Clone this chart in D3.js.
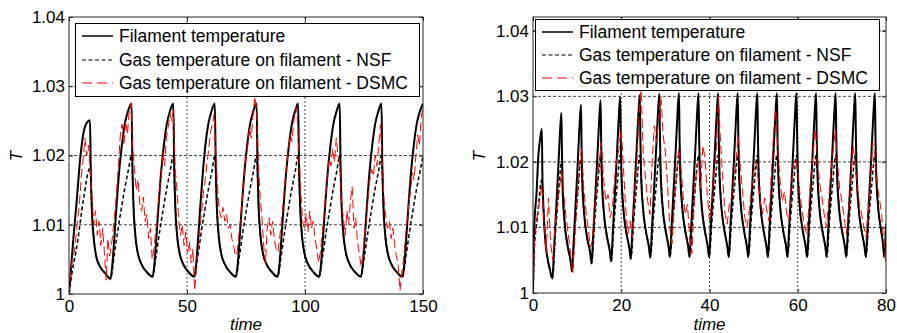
<!DOCTYPE html>
<html>
<head>
<meta charset="utf-8">
<script src="https://cdn.jsdelivr.net/npm/d3@7"></script>
<style>
  body { margin: 0; background: #fff; }
  text { font-family: Arial, "Liberation Sans", sans-serif; }
</style>
</head>
<body>
<svg id="chart"></svg>
<script>
// ---- data ----
const legendLabels = ["Filament temperature", "Gas temperature on filament - NSF", "Gas temperature on filament - DSMC"];
const yTicks = [1, 1.01, 1.02, 1.03, 1.04];
const yTickLabels = ["1", "1.01", "1.02", "1.03", "1.04"];
const leftXTicks = [0, 50, 100, 150];
const rightXTicks = [0, 20, 40, 60, 80];

// left panel, time 0..150
const leftFilament = [
  [0,1.0000],[1.8,1.0078],[3.3,1.0136],[4.7,1.0194],[6.1,1.0232],[7.5,1.0247],[8.9,1.0251],[9.2,1.0184],[9.7,1.0121],[10.5,1.0080],[11.5,1.0055],[13.1,1.0040],[15.3,1.0030],[17.6,1.0022],
  [18.3,1.0040],[19.1,1.0075],[20.1,1.0125],[21.2,1.0175],[22.4,1.0215],[23.6,1.0245],[24.9,1.0263],[26.5,1.0275],[26.85,1.0190],[27.3,1.0130],[28.1,1.0085],[29.1,1.0060],[30.7,1.0043],[32.9,1.0032],[35.4,1.0025],
  [36.1,1.0040],[36.9,1.0075],[37.9,1.0125],[39.0,1.0175],[40.2,1.0215],[41.4,1.0245],[42.7,1.0263],[44.2,1.0275],[44.55,1.0190],[45.0,1.0130],[45.8,1.0085],[46.8,1.0060],[48.4,1.0043],[50.6,1.0032],[53.1,1.0025],
  [53.8,1.0040],[54.6,1.0075],[55.6,1.0125],[56.7,1.0175],[57.8,1.0215],[59.0,1.0245],[60.3,1.0263],[61.8,1.0275],[62.15,1.0190],[62.6,1.0130],[63.4,1.0085],[64.4,1.0060],[66.0,1.0043],[68.2,1.0032],[70.7,1.0025],
  [71.4,1.0040],[72.2,1.0075],[73.2,1.0125],[74.3,1.0175],[75.5,1.0215],[76.7,1.0245],[78.0,1.0263],[79.5,1.0275],[79.85,1.0190],[80.3,1.0130],[81.1,1.0085],[82.1,1.0060],[83.7,1.0043],[85.9,1.0032],[88.4,1.0025],
  [89.1,1.0040],[89.9,1.0075],[90.9,1.0125],[92.0,1.0175],[93.2,1.0215],[94.4,1.0245],[95.7,1.0263],[97.1,1.0275],[97.45,1.0190],[97.9,1.0130],[98.7,1.0085],[99.7,1.0060],[101.3,1.0043],[103.5,1.0032],[106.0,1.0025],
  [106.7,1.0040],[107.5,1.0075],[108.5,1.0125],[109.6,1.0175],[110.8,1.0215],[112.0,1.0245],[113.3,1.0263],[114.7,1.0275],[115.05,1.0190],[115.5,1.0130],[116.3,1.0085],[117.3,1.0060],[118.9,1.0043],[121.1,1.0032],[123.7,1.0025],
  [124.4,1.0040],[125.2,1.0075],[126.2,1.0125],[127.3,1.0175],[128.5,1.0215],[129.7,1.0245],[131.0,1.0263],[132.4,1.0275],[132.75,1.0190],[133.2,1.0130],[134.0,1.0085],[135.0,1.0060],[136.6,1.0043],[138.8,1.0032],[141.3,1.0025],
  [142.0,1.0040],[142.8,1.0075],[143.8,1.0125],[144.9,1.0175],[146.1,1.0215],[147.3,1.0245],[148.6,1.0263],[150.0,1.0275]
];
const leftNSF = [
  [0,1.0000],[1.5,1.0035],[3.3,1.0068],[6.1,1.0136],[8.9,1.0182],[9.7,1.0121],[10.5,1.0080],[11.5,1.0055],[13.1,1.0040],[15.3,1.0030],[17.6,1.0022],
  [19.1,1.0055],[20.6,1.0090],[22.1,1.0122],[23.6,1.0152],[25.1,1.0178],[26.5,1.0200],[27.3,1.0130],[28.1,1.0085],[29.1,1.0060],[30.7,1.0043],[32.9,1.0032],[35.4,1.0025],
  [36.9,1.0055],[38.4,1.0090],[39.9,1.0122],[41.4,1.0152],[42.9,1.0178],[44.2,1.0200],[45.0,1.0130],[45.8,1.0085],[46.8,1.0060],[48.4,1.0043],[50.6,1.0032],[53.1,1.0025],
  [54.6,1.0055],[56.1,1.0090],[57.6,1.0122],[59.1,1.0152],[60.6,1.0178],[61.8,1.0200],[62.6,1.0130],[63.4,1.0085],[64.4,1.0060],[66.0,1.0043],[68.2,1.0032],[70.7,1.0025],
  [72.2,1.0055],[73.7,1.0090],[75.2,1.0122],[76.7,1.0152],[78.2,1.0178],[79.5,1.0200],[80.3,1.0130],[81.1,1.0085],[82.1,1.0060],[83.7,1.0043],[85.9,1.0032],[88.4,1.0025],
  [89.9,1.0055],[91.4,1.0090],[92.9,1.0122],[94.4,1.0152],[95.9,1.0178],[97.1,1.0200],[97.9,1.0130],[98.7,1.0085],[99.7,1.0060],[101.3,1.0043],[103.5,1.0032],[106.0,1.0025],
  [107.5,1.0055],[109.0,1.0090],[110.5,1.0122],[112.0,1.0152],[113.5,1.0178],[114.7,1.0200],[115.5,1.0130],[116.3,1.0085],[117.3,1.0060],[118.9,1.0043],[121.1,1.0032],[123.7,1.0025],
  [125.2,1.0055],[126.7,1.0090],[128.2,1.0122],[129.7,1.0152],[131.2,1.0178],[132.4,1.0200],[133.2,1.0130],[134.0,1.0085],[135.0,1.0060],[136.6,1.0043],[138.8,1.0032],[141.3,1.0025],
  [142.8,1.0055],[144.3,1.0090],[145.8,1.0122],[147.3,1.0152],[148.8,1.0178],[150.0,1.0200]
];
const leftDSMC = [
  [0,1.0000],[0.75,1.0030],[1.5,1.0055],[2.25,1.0060],[3.0,1.0085],[3.75,1.0110],[4.5,1.0135],[5.25,1.0170],[6.0,1.0195],[6.75,1.0225],[7.5,1.0200],[8.25,1.0215],[9.0,1.0180],[9.75,1.0140],[10.5,1.0100],[11.25,1.0120],[12.0,1.0085],[12.75,1.0105],[13.5,1.0070],[14.25,1.0095],[15.0,1.0060],[15.75,1.0020],[16.5,1.0080],[17.25,1.0055],
  [18.0,1.0070],[18.75,1.0095],[19.5,1.0120],[20.25,1.0150],[21.0,1.0190],[21.75,1.0230],[22.5,1.0245],[23.25,1.0215],[24.0,1.0250],[24.75,1.0230],[25.5,1.0265],[26.25,1.0275],[27.0,1.0210],[27.75,1.0180],[28.5,1.0150],[29.25,1.0165],[30.0,1.0130],[30.75,1.0120],[31.5,1.0140],[32.25,1.0105],[33.0,1.0115],[33.75,1.0080],[34.5,1.0095],[35.25,1.0050],
  [36.0,1.0065],[36.75,1.0090],[37.5,1.0120],[38.25,1.0145],[39.0,1.0170],[39.75,1.0205],[40.5,1.0185],[41.25,1.0225],[42.0,1.0240],[42.75,1.0260],[43.5,1.0250],[44.25,1.0265],[45.0,1.0180],[45.75,1.0150],[46.5,1.0105],[47.25,1.0085],[48.0,1.0100],[48.75,1.0070],[49.5,1.0090],[50.25,1.0060],[51.0,1.0075],[51.75,1.0045],[52.5,1.0065],[53.25,1.0005],
  [54.0,1.0040],[54.75,1.0060],[55.5,1.0095],[56.25,1.0120],[57.0,1.0150],[57.75,1.0165],[58.5,1.0190],[59.25,1.0210],[60.0,1.0235],[60.75,1.0245],[61.5,1.0260],[62.25,1.0200],[63.0,1.0150],[63.75,1.0120],[64.5,1.0110],[65.25,1.0125],[66.0,1.0105],[66.75,1.0115],[67.5,1.0095],[68.25,1.0100],[69.0,1.0080],[69.75,1.0070],[70.5,1.0055],
  [71.25,1.0060],[72.0,1.0085],[72.75,1.0110],[73.5,1.0140],[74.25,1.0165],[75.0,1.0200],[75.75,1.0215],[76.5,1.0240],[77.25,1.0225],[78.0,1.0260],[78.75,1.0285],[79.5,1.0265],[80.25,1.0190],[81.0,1.0140],[81.75,1.0110],[82.5,1.0070],[83.25,1.0045],[84.0,1.0095],[84.75,1.0110],[85.5,1.0085],[86.25,1.0105],[87.0,1.0080],[87.75,1.0065],
  [88.5,1.0060],[89.25,1.0080],[90.0,1.0105],[90.75,1.0130],[91.5,1.0160],[92.25,1.0185],[93.0,1.0210],[93.75,1.0230],[94.5,1.0220],[95.25,1.0250],[96.0,1.0270],[96.75,1.0255],[97.5,1.0200],[98.25,1.0145],[99.0,1.0105],[99.75,1.0095],[100.5,1.0115],[101.25,1.0090],[102.0,1.0120],[102.75,1.0095],[103.5,1.0105],[104.25,1.0080],[105.0,1.0065],[105.75,1.0045],
  [106.5,1.0060],[107.25,1.0085],[108.0,1.0110],[108.75,1.0140],[109.5,1.0170],[110.25,1.0195],[111.0,1.0185],[111.75,1.0210],[112.5,1.0190],[113.25,1.0225],[114.0,1.0200],[114.75,1.0190],[115.5,1.0130],[116.25,1.0110],[117.0,1.0085],[117.75,1.0120],[118.5,1.0100],[119.25,1.0135],[120.0,1.0155],[120.75,1.0095],[121.5,1.0110],[122.25,1.0075],[123.0,1.0060],[123.75,1.0040],
  [124.5,1.0055],[125.25,1.0080],[126.0,1.0105],[126.75,1.0140],[127.5,1.0165],[128.25,1.0180],[129.0,1.0170],[129.75,1.0200],[130.5,1.0185],[131.25,1.0215],[132.0,1.0245],[132.75,1.0190],[133.5,1.0135],[134.25,1.0110],[135.0,1.0095],[135.75,1.0105],[136.5,1.0080],[137.25,1.0095],[138.0,1.0070],[138.75,1.0055],[139.5,1.0040],[140.25,1.0005],[141.0,1.0030],
  [141.75,1.0050],[142.5,1.0080],[143.25,1.0105],[144.0,1.0130],[144.75,1.0150],[145.5,1.0175],[146.25,1.0165],[147.0,1.0200],[147.75,1.0230],[148.5,1.0215],[149.25,1.0255],[150.0,1.0270]
];

// right panel, time 0..80
const rightFilament = [
  [0,1.0000],[0.23,1.0091],[0.84,1.0157],[1.2,1.0208],[1.59,1.0234],[2.0,1.0250],[2.12,1.0183],[2.35,1.0132],[2.72,1.0086],[3.25,1.0055],[3.85,1.0035],[4.4,1.0022],
  [4.76,1.0066],[5.15,1.0116],[5.67,1.0183],[6.12,1.0245],[6.44,1.0275],[6.58,1.0207],[6.74,1.0156],[7.19,1.0106],[7.79,1.0074],[8.54,1.0048],[8.84,1.0033],
  [9.2,1.0077],[9.59,1.0127],[10.11,1.0194],[10.56,1.0257],[10.88,1.0287],[11.02,1.0219],[11.18,1.0168],[11.63,1.0118],[12.23,1.0086],[12.98,1.0060],[13.28,1.0045],
  [13.64,1.0089],[14.03,1.0137],[14.55,1.0203],[15.0,1.0264],[15.32,1.0294],[15.46,1.0225],[15.62,1.0173],[16.07,1.0122],[16.67,1.0090],[17.42,1.0063],[17.72,1.0048],
  [18.08,1.0092],[18.47,1.0141],[18.99,1.0207],[19.44,1.0269],[19.76,1.0299],[19.9,1.0230],[20.06,1.0178],[20.51,1.0126],[21.11,1.0094],[21.86,1.0067],[22.16,1.0052],
  [22.52,1.0096],[22.91,1.0145],[23.43,1.0211],[23.88,1.0272],[24.2,1.0302],[24.34,1.0233],[24.5,1.0180],[24.95,1.0128],[25.55,1.0096],[26.3,1.0069],[26.6,1.0054],
  [26.96,1.0099],[27.35,1.0148],[27.87,1.0214],[28.32,1.0275],[28.64,1.0304],[28.78,1.0235],[28.94,1.0183],[29.39,1.0130],[29.99,1.0098],[30.74,1.0070],[31.04,1.0055],
  [31.4,1.0099],[31.79,1.0148],[32.31,1.0214],[32.76,1.0275],[33.08,1.0305],[33.22,1.0235],[33.38,1.0183],[33.83,1.0130],[34.43,1.0098],[35.18,1.0070],[35.48,1.0055],
  [35.84,1.0099],[36.23,1.0148],[36.75,1.0214],[37.2,1.0275],[37.52,1.0305],[37.66,1.0235],[37.82,1.0183],[38.27,1.0130],[38.87,1.0098],[39.62,1.0070],[39.92,1.0055],
  [40.28,1.0099],[40.67,1.0148],[41.19,1.0214],[41.64,1.0275],[41.96,1.0305],[42.1,1.0235],[42.26,1.0183],[42.71,1.0130],[43.31,1.0098],[44.06,1.0070],[44.36,1.0055],
  [44.72,1.0099],[45.11,1.0148],[45.63,1.0214],[46.08,1.0275],[46.4,1.0305],[46.54,1.0235],[46.7,1.0183],[47.15,1.0130],[47.75,1.0098],[48.5,1.0070],[48.8,1.0055],
  [49.16,1.0099],[49.55,1.0148],[50.07,1.0214],[50.52,1.0275],[50.84,1.0305],[50.98,1.0235],[51.14,1.0183],[51.59,1.0130],[52.19,1.0098],[52.94,1.0070],[53.24,1.0055],
  [53.6,1.0099],[53.99,1.0148],[54.51,1.0214],[54.96,1.0275],[55.28,1.0305],[55.42,1.0235],[55.58,1.0183],[56.03,1.0130],[56.63,1.0098],[57.38,1.0070],[57.68,1.0055],
  [58.04,1.0099],[58.43,1.0148],[58.95,1.0214],[59.4,1.0275],[59.72,1.0305],[59.86,1.0235],[60.02,1.0183],[60.47,1.0130],[61.07,1.0098],[61.82,1.0070],[62.12,1.0055],
  [62.48,1.0099],[62.87,1.0148],[63.39,1.0214],[63.84,1.0275],[64.16,1.0305],[64.3,1.0235],[64.46,1.0183],[64.91,1.0130],[65.51,1.0098],[66.26,1.0070],[66.56,1.0055],
  [66.92,1.0099],[67.31,1.0148],[67.83,1.0214],[68.28,1.0275],[68.6,1.0305],[68.74,1.0235],[68.9,1.0183],[69.35,1.0130],[69.95,1.0098],[70.7,1.0070],[71.0,1.0055],
  [71.36,1.0099],[71.75,1.0148],[72.27,1.0214],[72.72,1.0275],[73.04,1.0305],[73.18,1.0235],[73.34,1.0183],[73.79,1.0130],[74.39,1.0098],[75.14,1.0070],[75.44,1.0055],
  [75.8,1.0099],[76.19,1.0148],[76.71,1.0214],[77.16,1.0275],[77.48,1.0305],[77.62,1.0235],[77.78,1.0183],[78.23,1.0130],[78.83,1.0098],[79.4,1.0070],[79.6,1.0055],[80.0,1.0105]
];
const rightNSF = [
  [0,1.0000],[0.3,1.0065],[1.0,1.0115],[2.0,1.0173],[2.35,1.0132],[2.72,1.0086],[3.25,1.0055],[3.85,1.0035],[4.4,1.0022],
  [5.08,1.0090],[5.76,1.0150],[6.44,1.0198],[6.74,1.0156],[7.19,1.0106],[7.79,1.0074],[8.54,1.0048],[8.84,1.0033],
  [9.52,1.0100],[10.2,1.0158],[10.88,1.0205],[11.18,1.0168],[11.63,1.0118],[12.23,1.0086],[12.98,1.0060],[13.28,1.0045],
  [13.96,1.0108],[14.64,1.0163],[15.32,1.0208],[15.62,1.0173],[16.07,1.0122],[16.67,1.0090],[17.42,1.0063],[17.72,1.0048],
  [18.4,1.0110],[19.08,1.0165],[19.76,1.0210],[20.06,1.0178],[20.51,1.0126],[21.11,1.0094],[21.86,1.0067],[22.16,1.0052],
  [22.84,1.0112],[23.52,1.0166],[24.2,1.0210],[24.5,1.0180],[24.95,1.0128],[25.55,1.0096],[26.3,1.0069],[26.6,1.0054],
  [27.28,1.0114],[27.96,1.0167],[28.64,1.0210],[28.94,1.0183],[29.39,1.0130],[29.99,1.0098],[30.74,1.0070],[31.04,1.0055],
  [31.72,1.0114],[32.4,1.0167],[33.08,1.0210],[33.38,1.0183],[33.83,1.0130],[34.43,1.0098],[35.18,1.0070],[35.48,1.0055],
  [36.16,1.0114],[36.84,1.0167],[37.52,1.0210],[37.82,1.0183],[38.27,1.0130],[38.87,1.0098],[39.62,1.0070],[39.92,1.0055],
  [40.6,1.0114],[41.28,1.0167],[41.96,1.0210],[42.26,1.0183],[42.71,1.0130],[43.31,1.0098],[44.06,1.0070],[44.36,1.0055],
  [45.04,1.0114],[45.72,1.0167],[46.4,1.0210],[46.7,1.0183],[47.15,1.0130],[47.75,1.0098],[48.5,1.0070],[48.8,1.0055],
  [49.48,1.0114],[50.16,1.0167],[50.84,1.0210],[51.14,1.0183],[51.59,1.0130],[52.19,1.0098],[52.94,1.0070],[53.24,1.0055],
  [53.92,1.0114],[54.6,1.0167],[55.28,1.0210],[55.58,1.0183],[56.03,1.0130],[56.63,1.0098],[57.38,1.0070],[57.68,1.0055],
  [58.36,1.0114],[59.04,1.0167],[59.72,1.0210],[60.02,1.0183],[60.47,1.0130],[61.07,1.0098],[61.82,1.0070],[62.12,1.0055],
  [62.8,1.0114],[63.48,1.0167],[64.16,1.0210],[64.46,1.0183],[64.91,1.0130],[65.51,1.0098],[66.26,1.0070],[66.56,1.0055],
  [67.24,1.0114],[67.92,1.0167],[68.6,1.0210],[68.9,1.0183],[69.35,1.0130],[69.95,1.0098],[70.7,1.0070],[71.0,1.0055],
  [71.68,1.0114],[72.36,1.0167],[73.04,1.0210],[73.34,1.0183],[73.79,1.0130],[74.39,1.0098],[75.14,1.0070],[75.44,1.0055],
  [76.12,1.0114],[76.8,1.0167],[77.48,1.0210],[77.78,1.0183],[78.23,1.0130],[78.83,1.0098],[79.4,1.0070],[79.6,1.0055],[80.0,1.0080]
];
const rightDSMC = [
  [0,1.0030],[0.5,1.0095],[1.0,1.0120],[1.5,1.0140],[2.0,1.0165],[2.5,1.0110],[3.0,1.0060],[3.5,1.0145],[4.0,1.0075],[4.5,1.0050],
  [5.0,1.0100],[5.5,1.0135],[6.0,1.0160],[6.5,1.0185],[7.0,1.0150],[7.5,1.0115],[8.0,1.0090],[8.5,1.0060],[9.0,1.0030],[9.5,1.0085],
  [10.0,1.0140],[10.5,1.0190],[11.0,1.0220],[11.5,1.0160],[12.0,1.0125],[12.5,1.0100],[13.0,1.0070],[13.5,1.0080],[14.0,1.0125],[14.5,1.0165],
  [15.0,1.0200],[15.5,1.0230],[16.0,1.0175],[16.5,1.0140],[17.0,1.0150],[17.5,1.0115],[18.0,1.0130],[18.5,1.0175],[19.0,1.0205],[19.5,1.0220],
  [20.0,1.0250],[20.5,1.0190],[21.0,1.0130],[21.5,1.0090],[22.0,1.0110],[22.5,1.0085],[23.0,1.0150],[23.5,1.0195],[24.0,1.0270],[24.5,1.0310],
  [25.0,1.0210],[25.5,1.0175],[26.0,1.0140],[26.5,1.0120],[27.0,1.0200],[27.5,1.0255],[28.0,1.0230],[28.5,1.0270],[29.0,1.0300],[29.5,1.0240],
  [30.0,1.0215],[30.5,1.0165],[31.0,1.0100],[31.5,1.0075],[32.0,1.0130],[32.5,1.0180],[33.0,1.0220],[33.5,1.0195],[34.0,1.0150],[34.5,1.0120],
  [35.0,1.0135],[35.5,1.0085],[36.0,1.0060],[36.5,1.0130],[37.0,1.0185],[37.5,1.0200],[38.0,1.0160],[38.5,1.0225],[39.0,1.0205],[39.5,1.0150],
  [40.0,1.0110],[40.5,1.0140],[41.0,1.0185],[41.5,1.0210],[42.0,1.0300],[42.5,1.0230],[43.0,1.0175],[43.5,1.0120],[44.0,1.0105],[44.5,1.0135],
  [45.0,1.0145],[45.5,1.0170],[46.0,1.0200],[46.5,1.0240],[47.0,1.0190],[47.5,1.0155],[48.0,1.0115],[48.5,1.0100],[49.0,1.0125],[49.5,1.0160],
  [50.0,1.0185],[50.5,1.0200],[51.0,1.0175],[51.5,1.0140],[52.0,1.0120],[52.5,1.0145],[53.0,1.0125],[53.5,1.0110],[54.0,1.0180],[54.5,1.0240],
  [55.0,1.0280],[55.5,1.0215],[56.0,1.0170],[56.5,1.0140],[57.0,1.0155],[57.5,1.0120],[58.0,1.0110],[58.5,1.0160],[59.0,1.0195],[59.5,1.0205],
  [60.0,1.0185],[60.5,1.0150],[61.0,1.0125],[61.5,1.0105],[62.0,1.0090],[62.5,1.0130],[63.0,1.0180],[63.5,1.0215],[64.0,1.0250],[64.5,1.0205],
  [65.0,1.0165],[65.5,1.0145],[66.0,1.0120],[66.5,1.0100],[67.0,1.0140],[67.5,1.0185],[68.0,1.0215],[68.5,1.0250],[69.0,1.0200],[69.5,1.0160],
  [70.0,1.0140],[70.5,1.0115],[71.0,1.0090],[71.5,1.0125],[72.0,1.0170],[72.5,1.0225],[73.0,1.0200],[73.5,1.0160],[74.0,1.0135],[74.5,1.0120],
  [75.0,1.0100],[75.5,1.0085],[76.0,1.0125],[76.5,1.0170],[77.0,1.0230],[77.5,1.0210],[78.0,1.0165],[78.5,1.0145],[79.0,1.0120],[79.5,1.0080],[80.0,1.0040]
];

// ---- layout ----
const width = 897, height = 333;
const fontSize = 17;
const legendFontSize = 17.5;

const panels = [
  { id: "l", x0: 69, x1: 423, y0: 17, y1: 294, xMax: 150, yMax: 1.04, xTicks: leftXTicks,
    filament: leftFilament, nsf: leftNSF, dsmc: leftDSMC,
    legend: { x: 75, y: 23, w: 344, h: 73, rowY: [36, 60, 83] }, yLabelX: 22 },
  { id: "r", x0: 533, x1: 886, y0: 17, y1: 293, xMax: 80, yMax: 1.0421, xTicks: rightXTicks,
    filament: rightFilament, nsf: rightNSF, dsmc: rightDSMC,
    legend: { x: 535, y: 19, w: 344, h: 71, rowY: [32, 55, 78] }, yLabelX: 485 }
];

const seriesStyle = [
  { stroke: "#000", width: 2, dash: null },
  { stroke: "#000", width: 1.5, dash: "4,2.5" },
  { stroke: "#ff0000", width: 1, dash: "9,4" }
];

const svg = d3.select("#chart")
  .attr("width", width)
  .attr("height", height)
  .style("background", "#fff");

panels.forEach(p => {
  const x = d3.scaleLinear().domain([0, p.xMax]).range([p.x0, p.x1]);
  const y = d3.scaleLinear().domain([1, p.yMax]).range([p.y1, p.y0]);
  const g = svg.append("g");

  g.append("clipPath").attr("id", "clip-" + p.id)
    .append("rect").attr("x", p.x0).attr("y", p.y0)
    .attr("width", p.x1 - p.x0).attr("height", p.y1 - p.y0);

  // grid
  const grid = g.append("g").attr("stroke", "#444").attr("stroke-width", 1);
  grid.selectAll(".gx").data(p.xTicks.filter(t => t > 0 && t < p.xMax)).enter()
    .append("line").attr("stroke-dasharray", "2,2")
    .attr("x1", d => x(d)).attr("x2", d => x(d)).attr("y1", p.y0).attr("y2", p.y1);
  grid.selectAll(".gy").data(yTicks.filter(t => t > 1 && t < p.yMax)).enter()
    .append("line").attr("stroke-dasharray", "3,2")
    .attr("y1", d => y(d)).attr("y2", d => y(d)).attr("x1", p.x0).attr("x2", p.x1);

  // data lines
  const plot = g.append("g").attr("clip-path", `url(#clip-${p.id})`);
  const smooth = d3.line().x(d => x(d[0])).y(d => y(d[1])).curve(d3.curveMonotoneX);
  const straight = d3.line().x(d => x(d[0])).y(d => y(d[1]));
  [p.filament, p.nsf, p.dsmc].forEach((data, i) => {
    const s = seriesStyle[i];
    plot.append("path").datum(data)
      .attr("d", i === 2 ? straight : smooth)
      .attr("fill", "none")
      .attr("stroke", s.stroke)
      .attr("stroke-width", s.width)
      .attr("stroke-dasharray", s.dash)
      .attr("stroke-linejoin", "round");
  });

  // axes with inward ticks
  const axisStyle = sel => {
    sel.select(".domain").remove();
    sel.selectAll("line").attr("stroke", "#262626");
    sel.selectAll("text").attr("font-size", fontSize).attr("fill", "#000")
      .attr("font-family", "Arial, 'Liberation Sans', sans-serif");
  };
  g.append("g").attr("transform", `translate(0,${p.y1})`)
    .call(d3.axisBottom(x).tickValues(p.xTicks).tickSize(-4).tickPadding(6).tickFormat(d => String(d)))
    .call(axisStyle);
  g.append("g").attr("transform", `translate(0,${p.y0})`)
    .call(d3.axisTop(x).tickValues(p.xTicks).tickSize(-4).tickFormat(""))
    .call(axisStyle);
  g.append("g").attr("transform", `translate(${p.x0},0)`)
    .call(d3.axisLeft(y).tickValues(yTicks).tickSize(-4).tickPadding(4).tickFormat((d, i) => yTickLabels[i]))
    .call(axisStyle);
  g.append("g").attr("transform", `translate(${p.x1},0)`)
    .call(d3.axisRight(y).tickValues(yTicks).tickSize(-4).tickFormat(""))
    .call(axisStyle);

  // box
  g.append("rect").attr("x", p.x0).attr("y", p.y0)
    .attr("width", p.x1 - p.x0).attr("height", p.y1 - p.y0)
    .attr("fill", "none").attr("stroke", "#262626").attr("stroke-width", 1);

  // legend
  const L = p.legend;
  const lg = g.append("g");
  lg.append("rect").attr("x", L.x + 0.5).attr("y", L.y + 0.5).attr("width", L.w).attr("height", L.h)
    .attr("fill", "#fff").attr("stroke", "#000").attr("stroke-width", 1);
  legendLabels.forEach((label, i) => {
    const s = seriesStyle[i];
    lg.append("line")
      .attr("x1", L.x + 7).attr("x2", L.x + 38)
      .attr("y1", L.rowY[i]).attr("y2", L.rowY[i])
      .attr("stroke", s.stroke).attr("stroke-width", i === 0 ? 1.5 : 1.2)
      .attr("stroke-dasharray", i === 2 ? "10,5" : s.dash);
    lg.append("text")
      .attr("x", L.x + 44).attr("y", L.rowY[i]).attr("dy", "0.35em")
      .attr("font-size", legendFontSize).text(label);
  });

  // axis labels
  g.append("text").attr("x", (p.x0 + p.x1) / 2).attr("y", 330)
    .attr("text-anchor", "middle").attr("font-size", fontSize).attr("font-style", "italic")
    .text("time");
  g.append("text").attr("transform", `translate(${p.yLabelX},156) rotate(-90)`)
    .attr("text-anchor", "middle").attr("font-size", fontSize).attr("font-style", "italic")
    .text("T");
});
</script>
</body>
</html>
